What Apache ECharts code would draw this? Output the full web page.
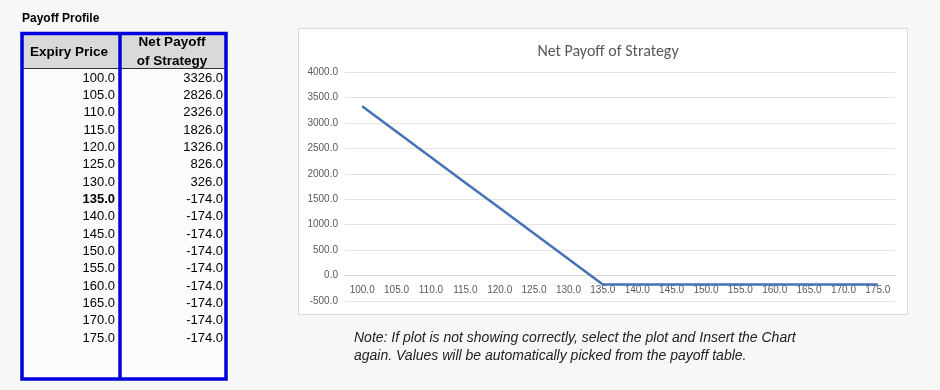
<!DOCTYPE html>
<html><head><meta charset="utf-8">
<script src="https://cdn.jsdelivr.net/npm/echarts@6/dist/echarts.min.js"></script>
<style>html,body{margin:0;padding:0;background:#f7f7f7;}#c{width:940px;height:390px;}</style>
</head><body><div id="c"></div>
<script>
var expiryPrices = [100,105,110,115,120,125,130,135,140,145,150,155,160,165,170,175];
var netPayoff = [3326,2826,2326,1826,1326,826,326,-174,-174,-174,-174,-174,-174,-174,-174,-174];
var tableTitle = 'Payoff Profile';
var colHeaders = ['Expiry Price', 'Net Payoff\nof Strategy'];
var chartTitle = 'Net Payoff of Strategy';
var noteLines = ['Note: If plot is not showing correctly, select the plot and Insert the Chart', 'again. Values will be automatically picked from the payoff table.'];
var boldPrice = 135;

var chart = echarts.init(document.getElementById('c'), null, {renderer:'canvas'});
var F = 'Liberation Sans, Arial, sans-serif';
var g = [];
// chart box
g.push({type:'rect', shape:{x:298.5,y:28.5,width:609,height:286}, style:{fill:'#ffffff', stroke:'#d9d9d9', lineWidth:1}, z:-10});
// table title
g.push({type:'text', left:22, top:13, style:{text:tableTitle, font:'bold 12px '+F, fill:'#000'}});
// table header background
g.push({type:'rect', shape:{x:22,y:34,width:204,height:34}, style:{fill:'#d9d9d9'}});
g.push({type:'line', shape:{x1:22,y1:68.5,x2:226,y2:68.5}, style:{stroke:'#333', lineWidth:1}});
// table body
g.push({type:'rect', shape:{x:22,y:69,width:204,height:309}, style:{fill:'#fbfbfb'}, z:-5});
// headers
g.push({type:'text', x:69, y:52, style:{text:colHeaders[0], font:'bold 13.5px '+F, fill:'#000', textAlign:'center', textVerticalAlign:'middle'}});
g.push({type:'text', x:172, y:52, style:{text:colHeaders[1], font:'bold 13.5px '+F, fill:'#000', textAlign:'center', textVerticalAlign:'middle', lineHeight:19}});
// rows
var rowStep = (338-78)/(expiryPrices.length-1);
expiryPrices.forEach(function(p,i){
  var y = 78 + i*rowStep;
  var b = p===boldPrice ? 'bold ' : '';
  g.push({type:'text', x:115, y:y, style:{text:p.toFixed(1), font:b+'13px '+F, fill:'#000', textAlign:'right', textVerticalAlign:'middle'}});
  g.push({type:'text', x:223, y:y, style:{text:netPayoff[i].toFixed(1), font:'13px '+F, fill:'#000', textAlign:'right', textVerticalAlign:'middle'}});
});
// blue borders
g.push({type:'rect', shape:{x:22,y:33.5,width:204,height:345.5}, style:{fill:'none', stroke:'#0000dd', lineWidth:3.5}, z:10});
g.push({type:'line', shape:{x1:120,y1:33,x2:120,y2:379}, style:{stroke:'#0000dd', lineWidth:3.5}, z:10});
// note
noteLines.forEach(function(t,i){
  g.push({type:'text', x:354, y:338+i*18, style:{text:t, font:'italic 14px '+F, fill:'#222', textVerticalAlign:'middle'}});
});

chart.setOption({
  animation:false,
  title:{text:chartTitle, left:603, top:39, textAlign:'center', textStyle:{fontFamily:'Carlito, Calibri, Liberation Sans, sans-serif', fontSize:16, fontWeight:'normal', color:'#595959'}},
  grid:{left:345, right:45, top:72, bottom:89},
  xAxis:{type:'category', data:expiryPrices.map(function(v){return v.toFixed(1);}), boundaryGap:true,
    offset:-25.5,
    axisLine:{onZero:false, lineStyle:{color:'#d9d9d9'}}, axisTick:{show:false},
    axisLabel:{fontSize:10, color:'#595959', margin:10, interval:0, fontFamily:F}},
  yAxis:{type:'value', min:-500, max:4000, interval:500,
    axisLine:{show:false}, axisTick:{show:false},
    splitLine:{lineStyle:{color:'#e3e3e3'}},
    axisLabel:{fontSize:10, color:'#595959', margin:7, fontFamily:F, formatter:function(v){return v.toFixed(1);}}},
  series:[{type:'line', data:netPayoff, symbol:'none', lineStyle:{color:'#4472b4', width:2.5}}],
  graphic:g
});
</script></body></html>
